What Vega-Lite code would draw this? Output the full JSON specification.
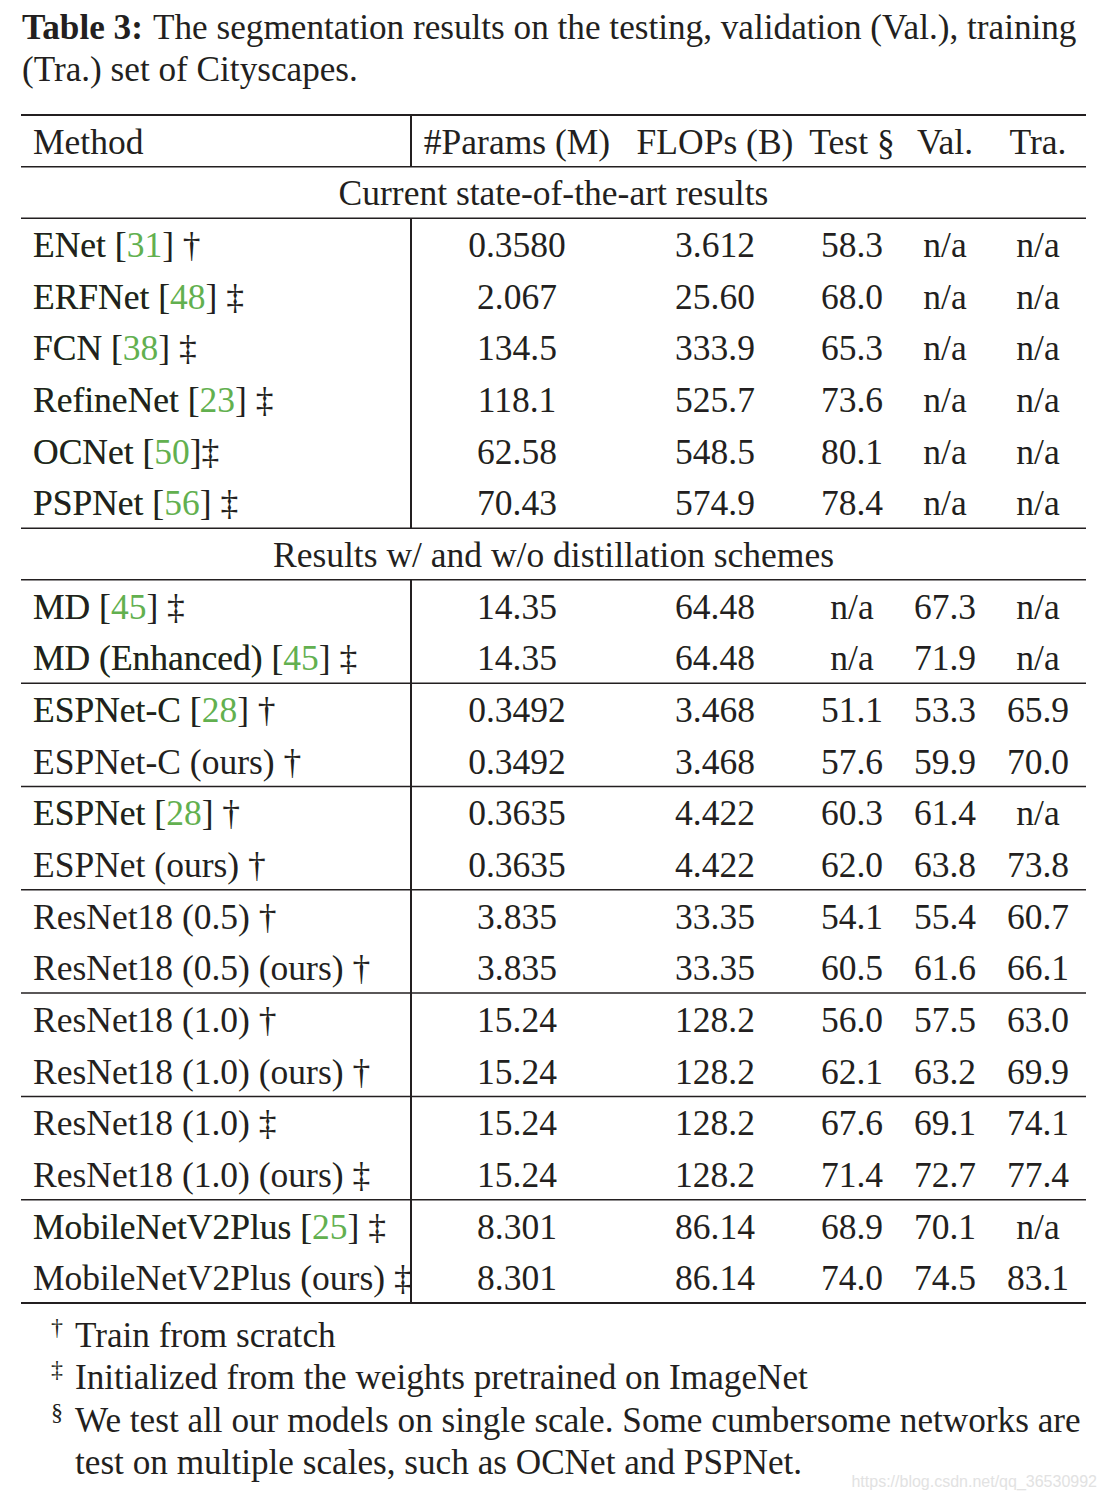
{
  "$schema": "https://vega.github.io/schema/vega-lite/v6.json",
  "width": 1106,
  "height": 1500,
  "autosize": {"type": "none"},
  "padding": 0,
  "background": "white",
  "config": {"view": {"stroke": null}, "text": {"font": "Liberation Serif", "fontSize": 35.5, "color": "#231f20", "baseline": "middle"}},
  "datasets": {
    "hrules": [
      {"pos": -0.5, "weight": "heavy"},
      {"pos": 0.5, "weight": "light"},
      {"pos": 1.5, "weight": "light"},
      {"pos": 7.5, "weight": "light"},
      {"pos": 8.5, "weight": "light"},
      {"pos": 10.5, "weight": "light"},
      {"pos": 12.5, "weight": "light"},
      {"pos": 14.5, "weight": "light"},
      {"pos": 16.5, "weight": "light"},
      {"pos": 18.5, "weight": "light"},
      {"pos": 20.5, "weight": "light"},
      {"pos": 22.5, "weight": "heavy"}
    ],
    "vrules": [
      {"from": -0.5, "to": 0.5},
      {"from": 1.5, "to": 7.5},
      {"from": 8.5, "to": 22.5}
    ],
    "sections": [
      {"row": 1, "text": "Current state-of-the-art results"},
      {"row": 8, "text": "Results w/ and w/o distillation schemes"}
    ],
    "table": [
      {"row": 0, "method": "Method", "ref": null, "params": "#Params (M)", "flops": "FLOPs (B)", "test": "Test §", "val": "Val.", "tra": "Tra."},
      {"row": 2, "method": "ENet [31] †", "ref": "31", "params": "0.3580", "flops": "3.612", "test": "58.3", "val": "n/a", "tra": "n/a"},
      {"row": 3, "method": "ERFNet [48] ‡", "ref": "48", "params": "2.067", "flops": "25.60", "test": "68.0", "val": "n/a", "tra": "n/a"},
      {"row": 4, "method": "FCN [38] ‡", "ref": "38", "params": "134.5", "flops": "333.9", "test": "65.3", "val": "n/a", "tra": "n/a"},
      {"row": 5, "method": "RefineNet [23] ‡", "ref": "23", "params": "118.1", "flops": "525.7", "test": "73.6", "val": "n/a", "tra": "n/a"},
      {"row": 6, "method": "OCNet [50]‡", "ref": "50", "params": "62.58", "flops": "548.5", "test": "80.1", "val": "n/a", "tra": "n/a"},
      {"row": 7, "method": "PSPNet [56] ‡", "ref": "56", "params": "70.43", "flops": "574.9", "test": "78.4", "val": "n/a", "tra": "n/a"},
      {"row": 9, "method": "MD [45] ‡", "ref": "45", "params": "14.35", "flops": "64.48", "test": "n/a", "val": "67.3", "tra": "n/a"},
      {"row": 10, "method": "MD (Enhanced) [45] ‡", "ref": "45", "params": "14.35", "flops": "64.48", "test": "n/a", "val": "71.9", "tra": "n/a"},
      {"row": 11, "method": "ESPNet-C [28] †", "ref": "28", "params": "0.3492", "flops": "3.468", "test": "51.1", "val": "53.3", "tra": "65.9"},
      {"row": 12, "method": "ESPNet-C (ours) †", "ref": null, "params": "0.3492", "flops": "3.468", "test": "57.6", "val": "59.9", "tra": "70.0"},
      {"row": 13, "method": "ESPNet [28] †", "ref": "28", "params": "0.3635", "flops": "4.422", "test": "60.3", "val": "61.4", "tra": "n/a"},
      {"row": 14, "method": "ESPNet (ours) †", "ref": null, "params": "0.3635", "flops": "4.422", "test": "62.0", "val": "63.8", "tra": "73.8"},
      {"row": 15, "method": "ResNet18 (0.5) †", "ref": null, "params": "3.835", "flops": "33.35", "test": "54.1", "val": "55.4", "tra": "60.7"},
      {"row": 16, "method": "ResNet18 (0.5) (ours) †", "ref": null, "params": "3.835", "flops": "33.35", "test": "60.5", "val": "61.6", "tra": "66.1"},
      {"row": 17, "method": "ResNet18 (1.0) †", "ref": null, "params": "15.24", "flops": "128.2", "test": "56.0", "val": "57.5", "tra": "63.0"},
      {"row": 18, "method": "ResNet18 (1.0) (ours) †", "ref": null, "params": "15.24", "flops": "128.2", "test": "62.1", "val": "63.2", "tra": "69.9"},
      {"row": 19, "method": "ResNet18 (1.0) ‡", "ref": null, "params": "15.24", "flops": "128.2", "test": "67.6", "val": "69.1", "tra": "74.1"},
      {"row": 20, "method": "ResNet18 (1.0) (ours) ‡", "ref": null, "params": "15.24", "flops": "128.2", "test": "71.4", "val": "72.7", "tra": "77.4"},
      {"row": 21, "method": "MobileNetV2Plus [25] ‡", "ref": "25", "params": "8.301", "flops": "86.14", "test": "68.9", "val": "70.1", "tra": "n/a"},
      {"row": 22, "method": "MobileNetV2Plus (ours) ‡", "ref": null, "params": "8.301", "flops": "86.14", "test": "74.0", "val": "74.5", "tra": "83.1"}
    ],
    "caption": [
      {"line": 1, "start": "margin", "style": "bold", "text": "Table 3:"},
      {"line": 1, "start": "label", "style": "regular", "text": "The segmentation results on the testing, validation (Val.), training"},
      {"line": 2, "start": "margin", "style": "regular", "text": "(Tra.) set of Cityscapes."}
    ],
    "notes": [
      {"line": 1, "mark": "†", "text": "Train from scratch"},
      {"line": 2, "mark": "‡", "text": "Initialized from the weights pretrained on ImageNet"},
      {"line": 3, "mark": "§", "text": "We test all our models on single scale. Some cumbersome networks are"},
      {"line": 4, "mark": "", "text": "test on multiple scales, such as OCNet and PSPNet."}
    ],
    "watermark": [
      {"text": "https://blog.csdn.net/qq_36530992"}
    ]
  },
  "layer": [
    {
      "data": {"name": "hrules"},
      "mark": {"type": "rule", "color": "#231f20"},
      "encoding": {
        "y": {"field": "pos", "type": "quantitative", "axis": null, "scale": {"domain": [-0.5, 22.5], "range": [115, 1303], "nice": false, "zero": false}},
        "x": {"datum": -1, "type": "quantitative", "axis": null, "scale": {"domain": [-1, 0, 1, 2, 3, 4, 5, 6, 7], "range": [21, 33, 411, 517, 715, 852, 945, 1038, 1086], "nice": false, "zero": false}},
        "x2": {"datum": 7},
        "strokeWidth": {"field": "weight", "type": "nominal", "legend": null, "scale": {"domain": ["heavy", "light"], "range": [2.2, 1.5]}}
      }
    },
    {
      "data": {"name": "vrules"},
      "mark": {"type": "rule", "color": "#231f20", "strokeWidth": 2},
      "encoding": {
        "y": {"field": "from", "type": "quantitative", "axis": null, "scale": {"domain": [-0.5, 22.5], "range": [115, 1303], "nice": false, "zero": false}},
        "y2": {"field": "to"},
        "x": {"datum": 1, "type": "quantitative", "axis": null, "scale": {"domain": [-1, 0, 1, 2, 3, 4, 5, 6, 7], "range": [21, 33, 411, 517, 715, 852, 945, 1038, 1086], "nice": false, "zero": false}}
      }
    },
    {
      "data": {"name": "sections"},
      "mark": {"type": "text", "align": "center", "dy": 2},
      "encoding": {
        "y": {"field": "row", "type": "quantitative", "axis": null, "scale": {"domain": [-0.5, 22.5], "range": [115, 1303], "nice": false, "zero": false}},
        "x": {"datum": 3, "type": "quantitative", "axis": null, "scale": {"domain": [-1, 7], "range": [21, 1086], "nice": false, "zero": false}},
        "text": {"field": "text"}
      }
    },
    {
      "data": {"name": "table"},
      "transform": [
        {"filter": "datum.ref != null"},
        {"calculate": "substring(datum.method, 0, indexof(datum.method, '[') + 1) + datum.ref", "as": "green"}
      ],
      "mark": {"type": "text", "align": "left", "color": "#62b04f", "dy": 2},
      "encoding": {
        "y": {"field": "row", "type": "quantitative", "axis": null, "scale": {"domain": [-0.5, 22.5], "range": [115, 1303], "nice": false, "zero": false}},
        "x": {"datum": 0, "type": "quantitative", "axis": null, "scale": {"domain": [-1, 0, 1, 2, 3, 4, 5, 6, 7], "range": [21, 33, 411, 517, 715, 852, 945, 1038, 1086], "nice": false, "zero": false}},
        "text": {"field": "green"}
      }
    },
    {
      "data": {"name": "table"},
      "transform": [
        {"calculate": "datum.ref != null ? replace(datum.method, datum.ref, '\u2007\u2007') : datum.method", "as": "black"}
      ],
      "mark": {"type": "text", "align": "left", "dy": 2},
      "encoding": {
        "y": {"field": "row", "type": "quantitative", "axis": null, "scale": {"domain": [-0.5, 22.5], "range": [115, 1303], "nice": false, "zero": false}},
        "x": {"datum": 0, "type": "quantitative", "axis": null, "scale": {"domain": [-1, 0, 1, 2, 3, 4, 5, 6, 7], "range": [21, 33, 411, 517, 715, 852, 945, 1038, 1086], "nice": false, "zero": false}},
        "text": {"field": "black"}
      }
    },
    {
      "data": {"name": "table"},
      "transform": [
        {"fold": ["params", "flops", "test", "val", "tra"], "as": ["key", "value"]},
        {"calculate": "indexof(['params', 'flops', 'test', 'val', 'tra'], datum.key) + 2", "as": "ci"}
      ],
      "mark": {"type": "text", "align": "center", "dy": 2},
      "encoding": {
        "y": {"field": "row", "type": "quantitative", "axis": null, "scale": {"domain": [-0.5, 22.5], "range": [115, 1303], "nice": false, "zero": false}},
        "x": {"field": "ci", "type": "quantitative", "axis": null, "scale": {"domain": [-1, 0, 1, 2, 3, 4, 5, 6, 7], "range": [21, 33, 411, 517, 715, 852, 945, 1038, 1086], "nice": false, "zero": false}},
        "text": {"field": "value"}
      }
    },
    {
      "data": {"name": "caption"},
      "transform": [{"filter": "datum.style == 'bold'"}],
      "mark": {"type": "text", "align": "left", "fontWeight": "bold", "fontSize": 35.2},
      "encoding": {
        "y": {"field": "line", "type": "quantitative", "axis": null, "scale": {"domain": [1, 2], "range": [28, 70], "nice": false, "zero": false}},
        "x": {"field": "start", "type": "nominal", "axis": null, "scale": {"type": "point", "domain": ["margin", "label"], "range": [22, 153], "padding": 0}},
        "text": {"field": "text"}
      }
    },
    {
      "data": {"name": "caption"},
      "transform": [{"filter": "datum.style == 'regular'"}],
      "mark": {"type": "text", "align": "left", "fontSize": 35.2},
      "encoding": {
        "y": {"field": "line", "type": "quantitative", "axis": null, "scale": {"domain": [1, 2], "range": [28, 70], "nice": false, "zero": false}},
        "x": {"field": "start", "type": "nominal", "axis": null, "scale": {"type": "point", "domain": ["margin", "label"], "range": [22, 153], "padding": 0}},
        "text": {"field": "text"}
      }
    },
    {
      "data": {"name": "notes"},
      "mark": {"type": "text", "align": "center", "fontSize": 24, "dy": -8},
      "encoding": {
        "y": {"field": "line", "type": "quantitative", "axis": null, "scale": {"domain": [1, 4], "range": [1336, 1463], "nice": false, "zero": false}},
        "x": {"datum": "mark", "type": "nominal", "axis": null, "scale": {"type": "point", "domain": ["mark", "text"], "range": [57, 75], "padding": 0}},
        "text": {"field": "mark"}
      }
    },
    {
      "data": {"name": "notes"},
      "mark": {"type": "text", "align": "left", "fontSize": 35.2},
      "encoding": {
        "y": {"field": "line", "type": "quantitative", "axis": null, "scale": {"domain": [1, 4], "range": [1336, 1463], "nice": false, "zero": false}},
        "x": {"datum": "text", "type": "nominal", "axis": null, "scale": {"type": "point", "domain": ["mark", "text"], "range": [57, 75], "padding": 0}},
        "text": {"field": "text"}
      }
    },
    {
      "data": {"name": "watermark"},
      "mark": {"type": "text", "align": "right", "font": "Liberation Sans", "fontSize": 16, "color": "#e2e2e2"},
      "encoding": {
        "y": {"datum": 1, "type": "quantitative", "axis": null, "scale": {"domain": [0, 1], "range": [0, 1482], "nice": false, "zero": false}},
        "x": {"datum": 1, "type": "quantitative", "axis": null, "scale": {"domain": [0, 1], "range": [0, 1097], "nice": false, "zero": false}},
        "text": {"field": "text"}
      }
    }
  ],
  "resolve": {"scale": {"x": "independent", "y": "independent", "strokeWidth": "independent"}}
}
